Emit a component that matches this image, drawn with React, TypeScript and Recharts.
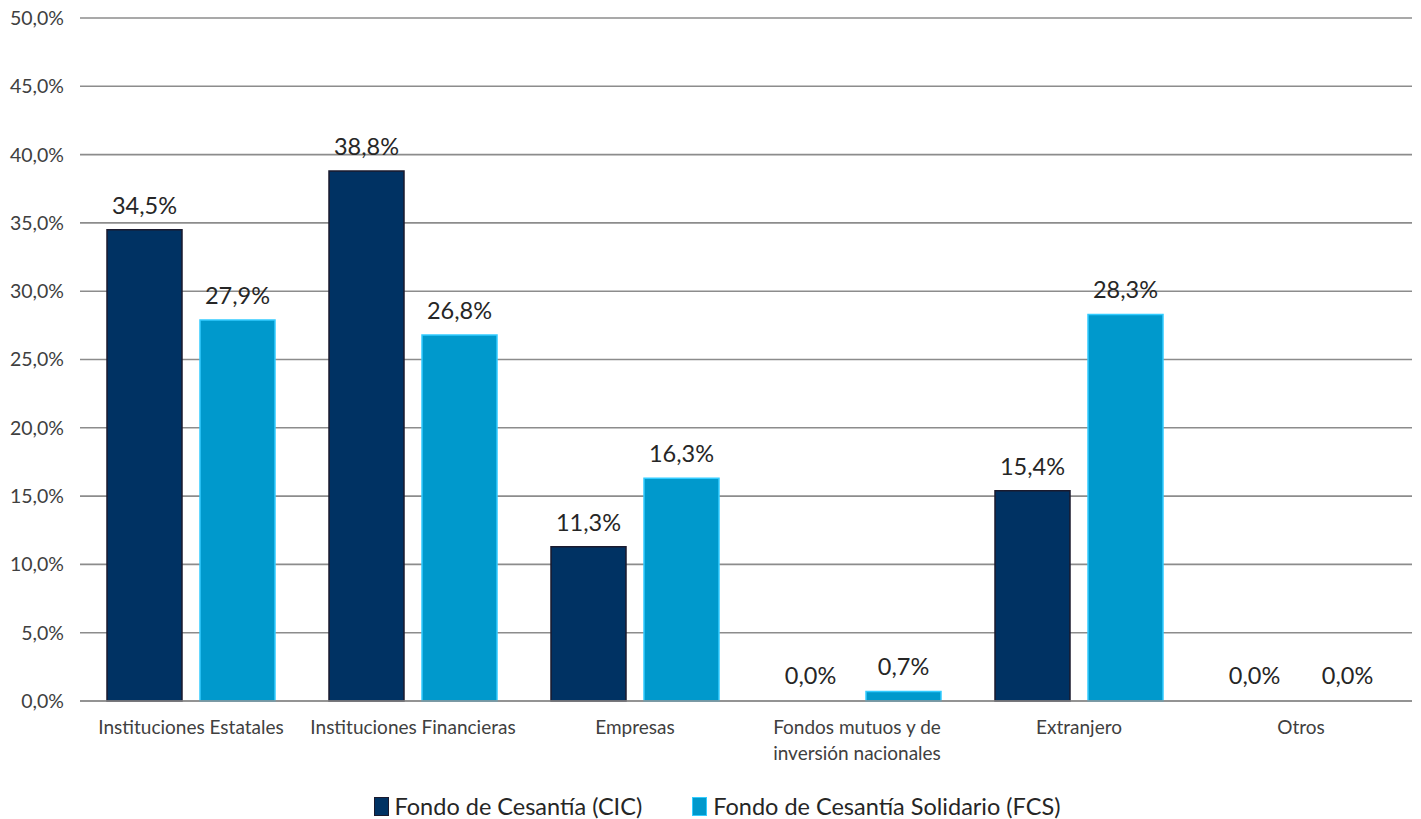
import React from "react"
import { Bar, BarChart, CartesianGrid, Cell, LabelList, Legend, XAxis, YAxis } from "recharts"

const categories = [
  "Instituciones Estatales",
  "Instituciones Financieras",
  "Empresas",
  "Fondos mutuos y de inversión nacionales",
  "Extranjero",
  "Otros",
]
const tickLines = [
  ["Instituciones Estatales"],
  ["Instituciones Financieras"],
  ["Empresas"],
  ["Fondos mutuos y de", "inversión nacionales"],
  ["Extranjero"],
  ["Otros"],
]
const cic = [34.5, 38.8, 11.3, 0.0, 15.4, 0.0]
const fcs = [27.9, 26.8, 16.3, 0.7, 28.3, 0.0]
const yTicks = [0, 5, 10, 15, 20, 25, 30, 35, 40, 45, 50]
const seriesNames = ["Fondo de Cesantía (CIC)", "Fondo de Cesantía Solidario (FCS)"]

const data = categories.map((c, i) => ({ name: c, cic: cic[i], fcs: fcs[i] }))

const FONT = "Lato, 'Open Sans', sans-serif"
const DARK = "#003263"
const DARK_EDGE = "#1a1a2e"
const LIGHT = "#0099cc"
const LIGHT_EDGE = "#33ccff"

const pct = (v: number) => v.toFixed(1).replace(".", ",") + "%"

function XTick({ x, y, payload }: any) {
  const idx = categories.indexOf(payload.value)
  const lines = tickLines[idx] || [payload.value]
  return (
    <text x={x} y={y} textAnchor="middle" fill="#404040" fontSize={19} fontFamily={FONT}>
      {lines.map((l, i) => (
        <tspan key={i} x={x} dy={i === 0 ? 25 : 26}>
          {l}
        </tspan>
      ))}
    </text>
  )
}

function LegendContent() {
  const colors = [
    { fill: DARK, stroke: DARK_EDGE },
    { fill: LIGHT, stroke: LIGHT_EDGE },
  ]
  return (
    <div
      style={{
        display: "flex",
        justifyContent: "center",
        paddingLeft: 22,
        fontFamily: FONT,
        fontSize: 23.5,
        color: "#262626",
        lineHeight: "26px",
      }}
    >
      {seriesNames.map((n, i) => (
        <div key={n} style={{ display: "flex", alignItems: "center", marginRight: i === 0 ? 50 : 0 }}>
          <span
            style={{
              display: "inline-block",
              width: 13,
              height: 17,
              background: colors[i].fill,
              border: `1.5px solid ${colors[i].stroke}`,
              marginRight: 6,
            }}
          />
          {n}
        </div>
      ))}
    </div>
  )
}

export default function App() {
  return (
    <div style={{ position: "absolute", left: 0, top: 0, background: "#fff" }}>
      <BarChart
        width={1421}
        height={819}
        data={data}
        margin={{ top: 18, right: 9, left: 0, bottom: 0 }}
        barSize={75}
        barGap={18}
      >
        <CartesianGrid vertical={false} stroke="#8c8c8c" strokeWidth={1.6} />
        <XAxis
          dataKey="name"
          interval={0}
          tick={<XTick />}
          tickLine={false}
          axisLine={{ stroke: "#8c8c8c", strokeWidth: 1.6 }}
          height={92}
        />
        <YAxis
          domain={[0, 50]}
          ticks={yTicks}
          tickFormatter={pct}
          width={80}
          axisLine={false}
          tickLine={false}
          tick={{ fill: "#404040", fontSize: 19.5, fontFamily: FONT }}
          tickMargin={10}
        />
        <Legend verticalAlign="bottom" height={26} content={<LegendContent />} />
        <Bar dataKey="cic" name={seriesNames[0]} fill={DARK} stroke={DARK_EDGE} strokeWidth={1.5} minPointSize={1} isAnimationActive={false}>
          {cic.map((v, i) => (
            <Cell key={i} fill={v === 0 ? "transparent" : DARK} stroke={v === 0 ? "none" : DARK_EDGE} />
          ))}
          <LabelList dataKey="cic" position="top" offset={16} formatter={(v: any) => pct(Number(v))} fill="#262626" fontSize={23.5} fontFamily={FONT} />
        </Bar>
        <Bar dataKey="fcs" name={seriesNames[1]} fill={LIGHT} stroke={LIGHT_EDGE} strokeWidth={1.5} minPointSize={1} isAnimationActive={false}>
          {fcs.map((v, i) => (
            <Cell key={i} fill={v === 0 ? "transparent" : LIGHT} stroke={v === 0 ? "none" : LIGHT_EDGE} />
          ))}
          <LabelList dataKey="fcs" position="top" offset={16} formatter={(v: any) => pct(Number(v))} fill="#262626" fontSize={23.5} fontFamily={FONT} />
        </Bar>
      </BarChart>
    </div>
  )
}
